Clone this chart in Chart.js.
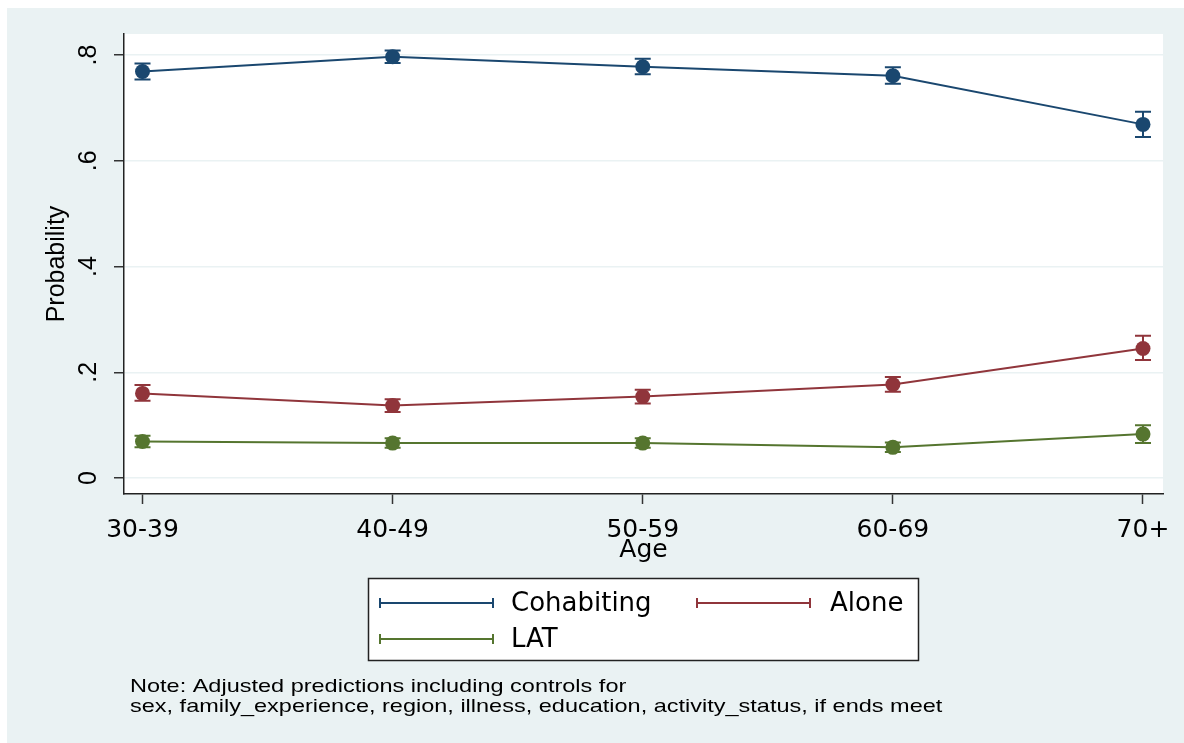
<!DOCTYPE html>
<html>
<head>
<meta charset="utf-8">
<script src="https://cdn.jsdelivr.net/npm/chart.js@4"></script>
<style>
  html, body { margin: 0; padding: 0; background: #fff; }
</style>
</head>
<body>
<canvas id="chart" width="1184" height="743"></canvas>
<script>
// predicted probabilities by age group, with 95% CI
const ageGroups = ['30-39', '40-49', '50-59', '60-69', '70+'];

const cohabiting   = [0.769, 0.797, 0.778, 0.761, 0.669];
const cohabitingLo = [0.754, 0.785, 0.764, 0.746, 0.645];
const cohabitingHi = [0.784, 0.809, 0.793, 0.777, 0.693];

const alone   = [0.160, 0.137, 0.154, 0.177, 0.245];
const aloneLo = [0.146, 0.125, 0.141, 0.163, 0.223];
const aloneHi = [0.176, 0.149, 0.167, 0.191, 0.269];

const lat   = [0.069, 0.066, 0.066, 0.058, 0.083];
const latLo = [0.058, 0.057, 0.057, 0.049, 0.066];
const latHi = [0.080, 0.075, 0.075, 0.067, 0.100];

const yTicks = [0, 0.2, 0.4, 0.6, 0.8];
const yTickLabels = ['0', '.2', '.4', '.6', '.8'];

const noteLines = [
  'Note: Adjusted predictions including controls for',
  'sex, family_experience, region, illness, education, activity_status, if ends meet'
];

const NAVY = '#1a476f';
const MAROON = '#90353b';
const GREEN = '#55752f';
const BLUISH = '#eaf2f3';

function series(label, values, lo, hi, color) {
  return {
    label: label,
    data: values.map((v, i) => ({ x: i, y: v })),
    lo: lo,
    hi: hi,
    borderColor: color,
    backgroundColor: color,
    borderWidth: 2,
    pointRadius: 7.5,
    pointHoverRadius: 7.5,
    pointBorderWidth: 0,
    tension: 0
  };
}

// stata style background: bluish outer region, white plot region
const background = {
  id: 'background',
  beforeDraw(chart) {
    const ctx = chart.ctx;
    const a = chart.chartArea;
    ctx.save();
    ctx.fillStyle = '#fff';
    ctx.fillRect(0, 0, chart.width, chart.height);
    ctx.fillStyle = BLUISH;
    ctx.fillRect(7, 8, chart.width - 7, chart.height - 8);
    ctx.fillStyle = '#fff';
    ctx.fillRect(a.left, a.top, a.right - a.left, a.bottom - a.top);
    ctx.restore();
  }
};

// capped spikes for the confidence intervals
const errorBars = {
  id: 'errorBars',
  beforeDatasetsDraw(chart) {
    const ctx = chart.ctx;
    const xs = chart.scales.x;
    const ys = chart.scales.y;
    ctx.save();
    chart.data.datasets.forEach((ds) => {
      ctx.strokeStyle = ds.borderColor;
      ctx.lineWidth = 2;
      ds.data.forEach((p, j) => {
        const x = xs.getPixelForValue(p.x);
        const y1 = ys.getPixelForValue(ds.lo[j]);
        const y2 = ys.getPixelForValue(ds.hi[j]);
        ctx.beginPath();
        ctx.moveTo(x, y1);
        ctx.lineTo(x, y2);
        ctx.moveTo(x - 8, y1);
        ctx.lineTo(x + 8, y1);
        ctx.moveTo(x - 8, y2);
        ctx.lineTo(x + 8, y2);
        ctx.stroke();
      });
    });
    ctx.restore();
  }
};

// boxed legend with rcap symbols, plus the note underneath
const legendBox = {
  id: 'legendBox',
  afterDraw(chart) {
    const ctx = chart.ctx;
    const ds = chart.data.datasets;
    ctx.save();
    ctx.fillStyle = '#fff';
    ctx.fillRect(368, 578, 551, 83);
    ctx.strokeStyle = '#222';
    ctx.lineWidth = 1.5;
    ctx.strokeRect(368.5, 578.5, 550, 82);

    const slots = [
      { x: 380, y: 603 },
      { x: 697, y: 603 },
      { x: 380, y: 639 }
    ];
    ctx.font = '26px "DejaVu Sans"';
    ctx.textBaseline = 'middle';
    ds.forEach((d, i) => {
      const s = slots[i];
      ctx.strokeStyle = d.borderColor;
      ctx.lineWidth = 2;
      ctx.beginPath();
      ctx.moveTo(s.x, s.y);
      ctx.lineTo(s.x + 113, s.y);
      ctx.moveTo(s.x, s.y - 5);
      ctx.lineTo(s.x, s.y + 5);
      ctx.moveTo(s.x + 113, s.y - 5);
      ctx.lineTo(s.x + 113, s.y + 5);
      ctx.stroke();
      ctx.fillStyle = '#000';
      ctx.fillText(d.label, s.x + (i === 1 ? 133 : 131), s.y + 1);
    });

    // the note is set in a narrow face, stretched a little like the original
    ctx.font = '18.5px "Liberation Sans"';
    ctx.textBaseline = 'alphabetic';
    ctx.fillStyle = '#000';
    ctx.translate(130, 0);
    ctx.scale(1.27, 1);
    ctx.fillText(noteLines[0], 0, 692);
    ctx.fillText(noteLines[1], 0, 712);
    ctx.restore();
  }
};

new Chart(document.getElementById('chart'), {
  type: 'line',
  data: {
    datasets: [
      series('Cohabiting', cohabiting, cohabitingLo, cohabitingHi, NAVY),
      series('Alone', alone, aloneLo, aloneHi, MAROON),
      series('LAT', lat, latLo, latHi, GREEN)
    ]
  },
  options: {
    responsive: false,
    animation: false,
    devicePixelRatio: 1,
    layout: { padding: { left: 0, top: 34, right: 21, bottom: 169 } },
    plugins: {
      legend: { display: false },
      tooltip: { enabled: false }
    },
    scales: {
      x: {
        type: 'linear',
        min: -0.074,
        max: 4.08,
        afterBuildTicks: (s) => { s.ticks = ageGroups.map((_, i) => ({ value: i })); },
        afterFit: (s) => { s.height = 80; s.paddingLeft = 0; s.paddingRight = 0; },
        ticks: {
          callback: (v) => ageGroups[v],
          font: { family: 'DejaVu Sans', size: 25 },
          color: '#000',
          padding: 11,
          maxRotation: 0,
          autoSkip: false
        },
        grid: { drawOnChartArea: false, tickLength: 10, tickColor: '#333', tickWidth: 1.5 },
        border: { color: '#222', width: 1.5 },
        title: {
          display: true,
          text: 'Age',
          font: { family: 'DejaVu Sans', size: 25 },
          color: '#000',
          padding: { top: 0, bottom: 9 }
        }
      },
      y: {
        min: -0.0303,
        max: 0.840,
        afterBuildTicks: (s) => { s.ticks = yTicks.map((v) => ({ value: v })); },
        afterFit: (s) => { s.width = 124; s.paddingTop = 0; s.paddingBottom = 0; },
        ticks: {
          callback: (v) => yTickLabels[yTicks.indexOf(v)],
          minRotation: 90,
          maxRotation: 90,
          crossAlign: 'center',
          padding: 14,
          font: { family: 'Liberation Sans', size: 25 },
          color: '#000'
        },
        grid: { color: BLUISH, lineWidth: 1.5, tickLength: 10, tickColor: '#333', tickWidth: 1.5 },
        border: { color: '#222', width: 1.5 },
        title: {
          display: true,
          text: 'Probability',
          font: { family: 'Liberation Sans', size: 25 },
          color: '#000',
          padding: { top: 42, bottom: 0 }
        }
      }
    }
  },
  plugins: [background, errorBars, legendBox]
});
</script>
</body>
</html>
